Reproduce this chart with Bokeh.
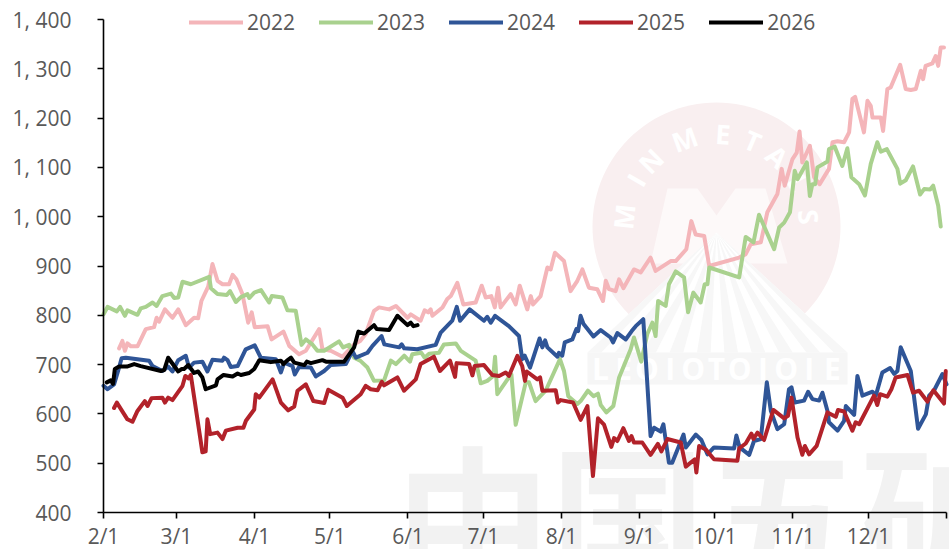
import numpy as np
from bokeh.plotting import figure
from bokeh.embed import file_html
from bokeh.resources import INLINE
from bokeh.models import Range1d, FixedTicker, Legend, LegendItem, PolyAnnotation, Label

# chart values: day offset from 2/1 (leap-year calendar axis) and price
d2022 = [6.2,7.5,8.5,9.5,10.9,13.5,16.8,20.1,21.1,22.1,24.4,27.4,29.7,32.7,36,37.6,38.9,41.6,43.3,45.3,47.3,49.9,51.3,52.8,55.2,57.5,58.9,60.1,65.2,66.8,71.5,73.8,77.7,80.4,85.7,87,90.3,95,99.6,102,104.2,107.5,109.5,113.5,116.2,120.8,122.1,126,127.6,129,130,130.7,134.7,136.6,138,140.6,143,147.9,150.3,151.9,154.1,155.5,156.8,157.8,161.8,163.8,165.4,168.4,169.8,170.7,173.7,176.4,177.7,179.4,183,185.6,188.3,190.3,192.9,196.2,198.5,199.6,200.9,203.5,204.9,206.6,210.8,213.5,217.4,219.4,225.4,227.4,231.6,233.6,235.3,238.7,240.7,252.6,255.2,257.2,261.2,263.8,267.8,269.5,270.7,273.8,275.5,276.6,277.7,280.7,282.4,284.6,288.3,289.7,291.7,294.3,296.3,297.6,298.7,302.2,303.6,304.9,305.6,308.9,309.8,311.5,312.8,316.6,318.8,320.8,322.8,324.8,325.7,326.7,329.4,330.7,331.7,332.7,334]
v2022 = [733,748,728,743,737,737,772,776,795,787,812,795,812,780,795,794,829,858,904,870,863,863,882,873,843,785,806,776,778,751,767,738,721,728,772,731,728,716,741,748,762,809,816,812,819,795,802,789,810,806,812,799,816,833,839,866,822,826,860,836,839,816,856,816,843,822,860,812,839,822,839,897,893,927,910,849,870,893,856,853,829,870,853,849,873,855,893,887,917,890,910,910,934,991,964,961,900,917,924,944,948,1009,1046,1097,1063,1117,1130,1173,1110,1144,1080,1066,1097,1151,1153,1151,1171,1239,1243,1171,1235,1225,1201,1201,1174,1259,1262,1308,1259,1257,1259,1296,1279,1306,1311,1326,1306,1343,1343]

d2023 = [0,1.6,5.3,6.6,8.5,9.5,13.5,14.8,16.8,19.5,21.1,23.4,26.8,28.1,29.7,31.4,34.7,42,42.7,45.3,49,50.3,52.6,54.6,57.2,57.9,59.9,62.6,65.8,66.9,71.1,73.1,76.4,78.7,80.4,83,85,87.7,93.6,95.2,97.6,99.6,102,104.9,107.5,111.5,114.2,116.2,119.5,121.8,122.7,126.3,127.6,129.4,133.3,135.3,140,142,147.9,149.9,152.5,154.9,155.6,156.5,161.1,162.1,163.8,167.8,169.1,171.7,175.7,179,181.4,183,184.7,188.3,189.6,192.5,194.7,196.5,197.6,199.8,202.6,204.9,209.5,210.8,213.7,216.1,218.1,219.4,220.4,223.4,224.7,227.4,230.7,232.3,234.4,237.3,238.9,240,240.7,252.6,255.2,258.3,260.5,266.5,268.5,270.5,272.8,274.7,275.8,279.5,280.7,281.7,282.8,283.7,287.7,288.3,290.6,293.6,295.6,297.2,300.3,302.6,304.9,307.5,308.9,311.3,315.5,316.6,318.8,321.7,324.5,326.1,328.5,329.7,331.7,332.7]
v2023 = [802,817,808,817,799,810,801,814,817,826,819,839,844,835,836,868,863,878,855,843,841,849,827,837,843,835,846,851,826,839,836,810,809,740,751,741,728,728,747,735,740,714,708,694,667,668,708,701,718,706,721,724,714,722,724,741,743,728,708,662,667,677,716,640,674,680,578,664,664,626,647,684,711,687,636,620,626,647,636,641,618,603,616,674,731,755,706,762,785,758,829,819,863,889,877,806,846,826,863,863,897,877,959,948,1004,934,978,988,1009,1093,1076,1110,1042,1066,1066,1100,1112,1137,1142,1103,1139,1080,1066,1043,1107,1151,1132,1137,1097,1067,1074,1102,1045,1056,1055,1063,1022,980]

d2024 = [0,1.6,4.2,5.8,7.2,8.9,18.1,19.5,23.4,25.7,27.4,29.7,32.7,34,36,39.3,41.3,43.3,47.3,47.9,49.3,50.6,53.3,56.5,60.1,62.5,68.5,70.5,71.8,75.1,76,77.7,82.4,84.4,87.7,90.3,96.3,98.9,100.3,104.9,106.9,110.5,111.6,117.5,118.5,119.5,124.7,132,134,138.6,140.4,141.7,145.5,151.2,152.5,153.9,155.6,161.1,165.1,166.4,167.4,169.5,173.3,174.4,175.5,176.4,180.4,181,182.3,183.3,186.3,187.9,188.6,189.6,190.7,194.7,197.6,201.5,202.5,204.2,207.5,209.9,211.5,214.5,217.4,218.8,221.4,222.5,224.7,226,230.5,231.4,235.4,237.6,240,242.6,250.6,251.5,252.8,256.6,258.5,261.2,263.6,265.2,267.8,270.5,272.4,273.4,274.7,278.4,280,281.7,284.4,285.7,287.7,288.3,291.7,294.3,295,298.3,299.6,301.6,305.6,306.9,309.5,312.6,314.2,315.5,316.8,320.8,323.7,326.8,328.1,330,333.4,335]
v2024 = [657,650,660,687,713,714,708,697,687,696,686,709,718,694,704,706,686,710,708,714,709,695,697,731,739,714,711,684,704,697,680,695,694,676,687,699,701,728,714,724,738,758,741,735,741,733,731,740,765,789,817,789,812,789,797,785,799,778,758,711,718,694,753,735,749,735,716,724,718,745,751,772,768,799,783,757,770,755,745,764,751,768,778,792,555,572,564,579,501,501,558,532,558,547,518,532,530,556,532,517,545,549,664,606,569,579,650,654,623,627,645,630,627,643,606,583,566,586,616,598,677,637,645,637,684,693,681,687,735,687,570,599,637,647,681,660]

d2025 = [4.2,5.3,9.5,11.5,13.5,16.4,17.5,19.1,23.4,24.4,25.7,27.4,31.4,32.5,33.8,34.7,39.3,40.6,41.3,42.4,45.3,47.3,48.6,53.3,55.6,56.6,59.9,60.5,61.9,67.2,70.5,73.4,75.8,77.1,80.4,83.4,87.7,89.3,95,96.7,98.3,102.2,104.2,106.2,108.9,110.6,111.5,116.8,119.4,124.1,126,131.3,133.7,137.7,139.7,140.3,145.3,146.6,147.5,151.2,154.5,157.2,159.8,161.1,164.5,166.4,167.5,168.2,172.4,173.5,174.4,179.7,180.6,181.7,186.6,189.6,192.3,194.5,196.5,198.9,201.8,202.9,204.2,206.6,208.8,209.8,210.8,214.1,217.4,220.3,221.7,224.1,229.4,231.4,235,235.6,236.7,239.3,242.6,251.9,252.6,255.2,257.5,258.3,259.9,262.5,266.2,270.5,272,273.4,275.8,277.7,278.7,280.4,283.4,287.7,291,291.9,294.3,297.6,298.9,300.3,306.2,307.5,308.6,311.5,313.1,314.8,319.5,321.7,324.1,327.4,329.8,334,334.7]
v2025 = [612,623,589,584,606,626,616,632,633,623,633,628,657,677,672,679,522,524,589,559,562,549,566,572,572,586,609,640,633,670,623,607,615,647,660,626,622,649,633,616,623,640,657,650,648,665,658,674,647,670,701,716,687,708,675,703,701,678,697,699,679,677,684,677,718,697,667,686,670,674,647,648,623,628,623,588,616,474,591,578,533,551,545,571,545,555,542,542,517,539,524,549,542,493,508,481,535,528,508,505,530,540,560,549,562,547,608,591,596,633,552,517,535,518,535,603,594,608,605,566,583,579,637,618,640,635,650,674,679,643,647,625,648,621,687]

d2026 = [1.3,2.9,3.8,4.5,6.2,9.3,12.2,14.8,22.8,24.1,25.7,29.7,31,32,33.7,36,37.6,39.3,40.6,44.7,45.3,47.7,51.3,53.3,54.6,57.9,59.9,61.9,66.5,70.5,71.5,72.9,74.5,75.8,79.8,80.8,82.4,87,88.4,95.6,99.6,101.3,103.6,107.5,108.6,113.5,116.8,120.8,122.1,123.2,124.8]
v2026 = [664,668,661,691,696,696,701,697,687,689,714,686,691,691,699,683,686,674,650,658,670,679,676,682,679,683,691,709,705,708,701,708,714,704,699,706,703,709,706,706,735,767,763,780,772,770,799,780,785,778,780]

series_names = ["2022", "2023", "2024", "2025", "2026"]
series_colors = ["#F4B5B9", "#A9D18E", "#2F5597", "#B2222A", "#000000"]
x_ticks = [0, 29, 60, 90, 121, 151, 182, 213, 243, 274, 304, 335]
x_labels = ["2/1", "3/1", "4/1", "5/1", "6/1", "7/1", "8/1", "9/1", "10/1", "11/1", "12/1", ""]
y_ticks = [400, 500, 600, 700, 800, 900, 1000, 1100, 1200, 1300, 1400]
y_labels = ["400", "500", "600", "700", "800", "900", "1, 000", "1, 100", "1, 200", "1, 300", "1, 400"]

FONT = "Open Sans"
TXT = "#595959"
W, H = 949, 549
# plot rectangle in the page: left 103, right 946, top 19, bottom 512; the frame fills the page
PX_X = 843 / 335
PX_Y = 493 / 1000

p = figure(width=W, height=H, output_backend="svg", toolbar_location=None,
           x_range=Range1d(-103 / PX_X, 335 + 3 / PX_X),
           y_range=Range1d(400 - 37 / PX_Y, 1400 + 19 / PX_Y),
           min_border_left=0, min_border_right=0, min_border_top=0, min_border_bottom=0)
p.grid.visible = False
p.outline_line_color = None


# faint background watermark, placed in page pixels measured from the top-left
def poly(xs, ys, color):
    p.add_layout(PolyAnnotation(xs=list(xs), ys=[H - y for y in ys],
                                xs_units="screen", ys_units="screen",
                                fill_color=color, fill_alpha=1, line_color=None, level="underlay"))


def wm_text(x, y, s, size, color, angle=0.0, bold=True, font=FONT):
    p.add_layout(Label(x=x, y=H - y, x_units="screen", y_units="screen", text=s, angle=angle,
                       text_font=font, text_font_size=f"{size}px", text_color=color,
                       text_align="center", text_baseline="middle",
                       text_font_style="bold" if bold else "normal", level="underlay"))


WM_CX, WM_CY, WM_R = 716, 226, 124
t = np.linspace(0, 2 * np.pi, 121)
poly(WM_CX + WM_R * np.cos(t), WM_CY + WM_R * np.sin(t), "#F9EFF0")
poly([650, 667, 697, 716, 735, 765, 787, 645], [263, 188, 188, 215, 188, 188, 263, 263], "#FDF9F9")
# fan of rays and the base band
poly([716, 587, 847], [232, 352, 352], "#FFFFFF")
fan = np.linspace(587, 847, 20)
for i in range(0, 19, 2):
    poly([716, float(fan[i]), float(fan[i + 1])], [232, 352, 352], "#F7F7F7")
poly([587, 847, 847, 587], [352, 352, 384, 384], "#F6F6F6")
for i, ch in enumerate("LEOIOTOIOIE"):
    wm_text(600 + i * 23.2, 368, ch, 30, "#FFFFFF")
# arc letters
for ch, deg in zip("MINMETALS", [-84, -60, -45, -20, 4, 23, 41, 62, 84]):
    a = np.radians(deg)
    wm_text(WM_CX + 93 * np.sin(a), WM_CY - 93 * np.cos(a), ch, 27, "#FFFFFF", angle=-float(a))
wm_text(705, 510, "中国五矿", 155, "#F2F2F2", font="Noto Sans CJK SC")

renderers = []
for xs, ys, c in zip([d2022, d2023, d2024, d2025, d2026],
                     [v2022, v2023, v2024, v2025, v2026], series_colors):
    renderers.append(p.line(xs, ys, line_color=c, line_width=4, line_join="round", line_cap="round"))

p.xaxis.ticker = FixedTicker(ticks=x_ticks)
p.xaxis.major_label_overrides = dict(zip(x_ticks, x_labels))
p.yaxis.ticker = FixedTicker(ticks=y_ticks)
p.yaxis.major_label_overrides = dict(zip(y_ticks, y_labels))
p.xaxis[0].fixed_location = 400
p.yaxis[0].fixed_location = 0
p.xaxis[0].bounds = (0, 335)
p.yaxis[0].bounds = (400, 1400)
for ax in (p.xaxis[0], p.yaxis[0]):
    ax.axis_line_color = "#000000"
    ax.axis_line_width = 1.6
    ax.major_tick_line_color = "#000000"
    ax.major_tick_line_width = 1.6
    ax.major_tick_out = 6
    ax.major_tick_in = 0
    ax.minor_tick_line_color = None
    ax.major_label_text_font = FONT
    ax.major_label_text_font_size = "21px"
    ax.major_label_text_color = TXT
p.xaxis[0].major_label_standoff = 3
p.yaxis[0].major_label_standoff = 26

legend = Legend(items=[LegendItem(label=n, renderers=[r]) for n, r in zip(series_names, renderers)],
                orientation="horizontal", location=(189, 513), margin=0, padding=0,
                spacing=24, glyph_width=54, glyph_height=20, label_standoff=4,
                background_fill_alpha=0, border_line_color=None,
                label_text_font=FONT, label_text_font_size="21px", label_text_color=TXT)
p.add_layout(legend, "center")

open("out.html", "w").write(file_html(p, INLINE))
